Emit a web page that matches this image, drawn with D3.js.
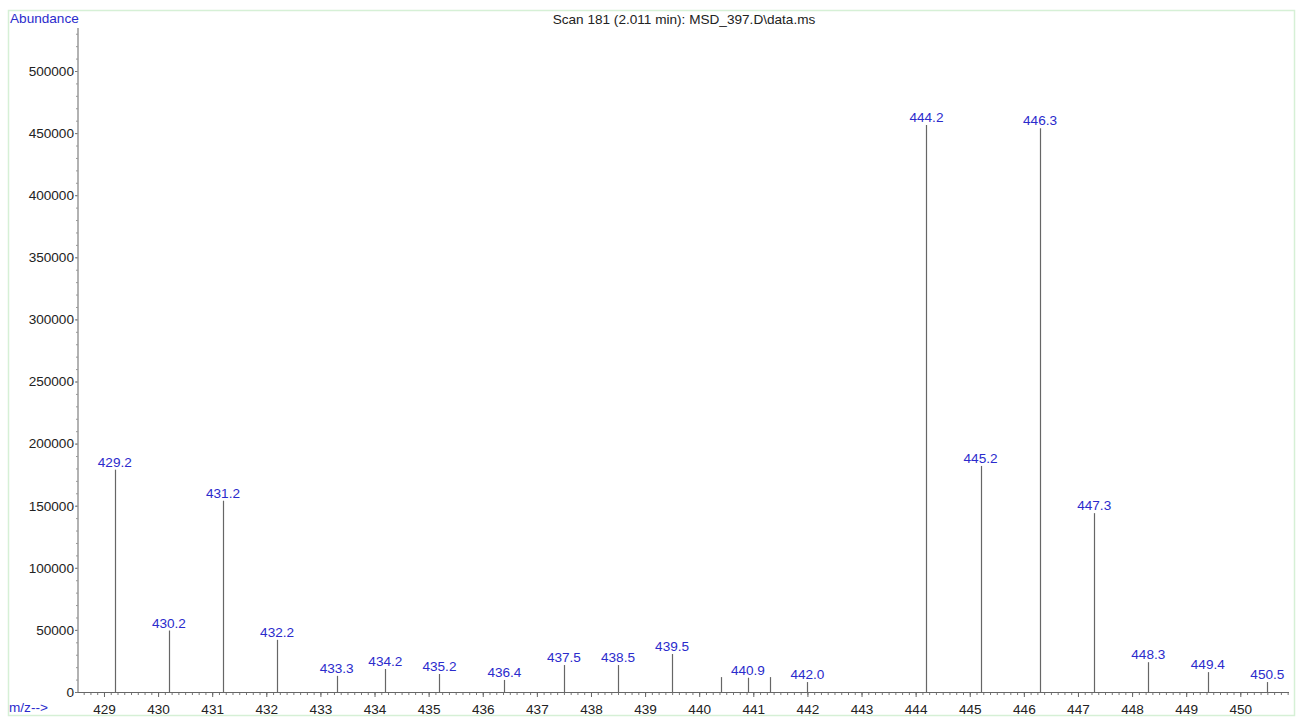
<!DOCTYPE html>
<html><head><meta charset="utf-8">
<script src="https://cdn.jsdelivr.net/npm/d3@7"></script>
<style>html,body{margin:0;padding:0;background:#fff;}svg{display:block;font-family:"Liberation Sans",Arial,sans-serif;}</style>
</head><body>
<svg id="c" width="1296" height="718"></svg>
<script>
const mz = [429.2, 430.2, 431.2, 432.2, 433.3, 434.2, 435.2, 436.4, 437.5, 438.5, 439.5, 440.4, 440.9, 441.3, 442.0, 444.2, 445.2, 446.3, 447.3, 448.3, 449.4, 450.5];
const abundance = [179000, 49500, 154000, 42000, 13000, 18500, 14500, 9700, 21700, 21700, 30600, 12000, 11500, 12000, 8000, 456500, 182000, 454000, 144000, 24000, 16000, 8000];
const peakLabels = ["429.2","430.2","431.2","432.2","433.3","434.2","435.2","436.4","437.5","438.5","439.5","","440.9","","442.0","444.2","445.2","446.3","447.3","448.3","449.4","450.5"];
const xTicks = [429,430,431,432,433,434,435,436,437,438,439,440,441,442,443,444,445,446,447,448,449,450];
const yTicks = [0,50000,100000,150000,200000,250000,300000,350000,400000,450000,500000];
const title = "Scan 181 (2.011 min): MSD_397.D\\data.ms";

const svg = d3.select("#c");
const FS = "13.6px";
const blue = "#2b2bcc";

const x = d3.scaleLinear().domain([428.52, 450.9]).range([78, 1289]);
const y = d3.scaleLinear().domain([0, 500000]).range([692, 71]);

// frame
svg.append("rect").attr("x", 8.5).attr("y", 10.5).attr("width", 1286).attr("height", 705)
  .attr("fill", "none").attr("stroke", "#d6f0d6").attr("stroke-width", 1.5);

// title
svg.append("text").attr("x", 684).attr("y", 24).attr("text-anchor", "middle")
  .attr("font-size", FS).attr("fill", "#222").text(title);
svg.append("text").attr("x", 10).attr("y", 23).attr("font-size", FS).attr("fill", blue).text("Abundance");
svg.append("text").attr("x", 9).attr("y", 712).attr("font-size", FS).attr("fill", blue).text("m/z-->");

// y axis
const yAxisG = svg.append("g").attr("transform", "translate(78,0)");
yAxisG.call(d3.axisLeft(y).tickValues(d3.range(0, 530001, 10000)).tickSize(2).tickFormat(""));
yAxisG.call(g => g.select(".domain").remove());
yAxisG.selectAll(".tick line").attr("stroke", "#999");
const yMajor = svg.append("g").attr("transform", "translate(78,0)")
  .call(d3.axisLeft(y).tickValues(yTicks).tickSize(3).tickPadding(1).tickFormat(d3.format("d")));
yMajor.select(".domain").remove();
yMajor.selectAll(".tick line").attr("stroke", "#777");
yMajor.selectAll("text").attr("font-size", FS).attr("fill", "#222").attr("font-family", "Liberation Sans, Arial, sans-serif");
svg.append("line").attr("x1", 78).attr("x2", 78).attr("y1", 28).attr("y2", y(0))
  .attr("stroke", "#999").attr("stroke-width", 1.5);

// x axis
const minorX = d3.range(0, 8 * (450.875 - 428.625) + 1).map(i => 428.625 + i * 0.125);
const xMinor = svg.append("g").attr("transform", `translate(0,${y(0)})`)
  .call(d3.axisBottom(x).tickValues(minorX).tickSize(3).tickFormat(""));
xMinor.select(".domain").remove();
xMinor.selectAll(".tick line").attr("stroke", "#777");
const xMajor = svg.append("g").attr("transform", `translate(0,${y(0)})`)
  .call(d3.axisBottom(x).tickValues(xTicks).tickSize(5).tickPadding(7).tickFormat(d3.format("d")));
xMajor.select(".domain").remove();
xMajor.selectAll(".tick line").attr("stroke", "#666");
xMajor.selectAll("text").attr("font-size", FS).attr("fill", "#222").attr("font-family", "Liberation Sans, Arial, sans-serif");
svg.append("line").attr("x1", 78).attr("x2", 1289).attr("y1", y(0) + 0.5).attr("y2", y(0) + 0.5)
  .attr("stroke", "#666").attr("stroke-width", 1);

// peaks
const peaks = mz.map((m, i) => ({ m, a: abundance[i], l: peakLabels[i] }));
svg.append("g").selectAll("line").data(peaks).join("line")
  .attr("x1", d => Math.round(x(d.m)) + 0.5).attr("x2", d => Math.round(x(d.m)) + 0.5)
  .attr("y1", y(0)).attr("y2", d => y(d.a))
  .attr("stroke", "#666").attr("stroke-width", 1.2);
svg.append("g").selectAll("text").data(peaks.filter(d => d.l)).join("text")
  .attr("x", d => x(d.m)).attr("y", d => y(d.a) - 3)
  .attr("text-anchor", "middle").attr("font-size", FS).attr("fill", blue).text(d => d.l);
</script>
</body></html>
